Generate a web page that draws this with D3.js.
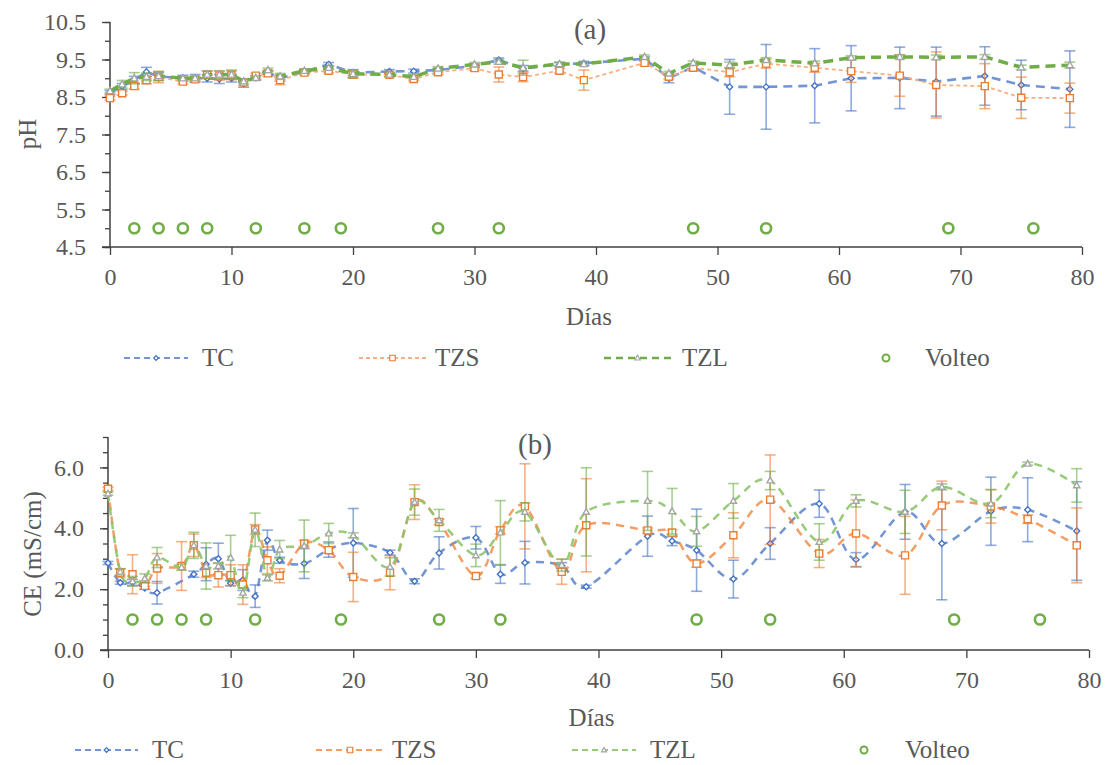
<!DOCTYPE html>
<html>
<head>
<meta charset="utf-8">
<script src="https://cdn.jsdelivr.net/npm/d3@7"></script>
<style>
  html, body { margin: 0; padding: 0; background: #ffffff; }
  svg { display: block; }
</style>
</head>
<body>
<script>
// Sampling days (same for both panels)
const days = [0,1,2,3,4,6,7,8,9,10,11,12,13,14,16,18,20,23,25,27,30,32,34,37,39,44,46,48,51,54,58,61,65,68,72,75,79];

// (a) pH per treatment
const phTC  = [8.62,8.78,8.95,9.17,9.05,9.00,9.00,9.00,8.98,9.00,8.86,9.01,9.15,9.00,9.18,9.37,9.15,9.18,9.19,9.22,9.33,9.49,9.26,9.37,9.40,9.52,9.00,9.30,8.77,8.77,8.80,9.00,9.01,8.91,9.06,8.82,8.71];
const phTZS = [8.47,8.60,8.79,8.95,9.03,8.91,8.97,9.09,9.07,9.08,8.89,9.07,9.13,8.95,9.15,9.20,9.10,9.09,8.98,9.16,9.27,9.10,9.03,9.20,8.95,9.41,9.04,9.28,9.16,9.39,9.28,9.19,9.07,8.82,8.79,8.48,8.47];
const phTZL = [8.66,8.84,9.00,9.04,9.06,9.00,9.00,9.10,9.10,9.10,8.92,9.01,9.22,9.05,9.20,9.28,9.12,9.10,9.04,9.26,9.37,9.44,9.28,9.38,9.38,9.57,9.13,9.41,9.35,9.49,9.40,9.55,9.57,9.56,9.57,9.29,9.35];
// (a) standard deviations
const phTCsd  = [0.05,0.08,0.10,0.12,0.10,0.08,0.10,0.10,0.12,0.10,0.10,0.06,0.05,0.08,0.05,0.05,0.08,0.05,0.05,0.05,0.05,0.05,0.08,0.05,0.05,0.05,0.12,0.05,0.73,1.13,0.99,0.87,0.82,0.92,0.78,0.66,1.02];
const phTZSsd = [0.05,0.05,0.08,0.10,0.15,0.06,0.06,0.10,0.12,0.12,0.08,0.06,0.08,0.12,0.05,0.06,0.10,0.06,0.05,0.06,0.06,0.20,0.12,0.06,0.27,0.06,0.06,0.08,0.12,0.12,0.12,0.30,0.55,0.88,0.60,0.55,0.40];
const phTZLsd = [0.05,0.10,0.15,0.10,0.12,0.05,0.05,0.10,0.10,0.12,0.06,0.05,0.05,0.08,0.05,0.05,0.10,0.05,0.06,0.05,0.05,0.06,0.20,0.05,0.05,0.05,0.05,0.05,0.08,0.06,0.06,0.05,0.06,0.06,0.06,0.06,0.08];

// (b) electrical conductivity (mS/cm) per treatment
const ceTC  = [2.86,2.21,2.22,2.04,1.88,null,2.49,2.82,3.00,2.19,2.30,1.77,3.61,2.95,2.84,3.30,3.52,3.20,2.26,3.19,3.69,2.49,2.87,2.77,2.08,3.74,3.58,3.28,2.33,3.50,4.81,2.97,4.54,3.50,4.56,4.61,3.91];
const ceTZS = [5.30,2.53,2.49,2.11,2.68,2.76,3.44,2.54,2.46,2.46,2.15,3.96,2.95,2.44,3.50,3.28,2.40,2.54,4.86,4.21,2.43,3.93,4.72,2.57,4.10,3.93,3.86,2.84,3.77,4.94,3.17,3.83,3.11,4.75,4.72,4.30,3.44];
const ceTZL = [5.14,2.57,2.26,2.35,3.04,2.72,3.44,2.76,2.76,3.03,1.88,3.95,2.37,3.30,3.42,3.83,3.77,2.73,4.86,4.26,3.11,3.86,4.54,2.79,4.54,4.90,4.56,3.90,4.90,5.57,3.55,4.90,4.54,5.36,4.81,6.12,5.41];
// (b) standard deviations
const ceTCsd  = [0.05,0.05,0.10,0.05,0.37,0,0.10,0.54,0.51,0.08,0.34,0.37,0.33,0.10,0.49,0.25,1.13,0.08,0.08,0.53,0.37,0.30,0.70,0.10,0.05,0.66,0.15,1.35,0.62,0.52,0.45,0.23,0.90,1.85,1.12,1.05,1.62];
const ceTZSsd = [0.05,0.14,0.64,0.10,0.49,0.80,0.37,0.16,0.39,0.34,0.65,0.16,0.44,0.23,0.10,0.08,0.81,0.56,0.57,0.09,0.08,0.12,1.40,0.41,1.53,0.08,0.08,0.12,0.74,1.47,0.46,1.10,1.28,0.80,0.55,0.14,1.23];
const ceTZLsd = [0.05,0.10,0.16,0.15,0.33,0.10,0.43,0.76,0.10,0.74,0.16,0.55,0.10,0.30,0.85,0.33,0.08,0.30,0.43,0.36,0.37,1.05,0.30,0.20,1.45,0.97,0.75,0.49,0.57,0.30,0.60,0.20,0.71,0.10,0.46,0.05,0.55];

// Turning events
const volteoA = [2,4,6,8,12,16,19,27,32,48,54,69,76];
const volteoB = [2,4,6,8,12,19,27,32,48,54,69,76];

// Axis ticks
const xTicks = [0,10,20,30,40,50,60,70,80];
const phTicks = [4.5,5.5,6.5,7.5,8.5,9.5,10.5];
const ceTicks = [0,2,4,6];
const seriesNames = ["TC","TZS","TZL","Volteo"];

const BLUE = "#4472C4", ORANGE = "#ED7D31", GREEN = "#70AD47", GRAY = "#A5A5A5";
const SERIF = "'Liberation Serif', 'Times New Roman', Tinos, 'Nimbus Roman', 'DejaVu Serif', serif";
const INK = "#595959";

const svg = d3.select("body").append("svg").attr("width", 1108).attr("height", 765)
  .attr("font-family", SERIF);

// marker shapes
const diamondType = { draw(ctx, size) { const r = Math.sqrt(size) / 2; ctx.moveTo(0,-r); ctx.lineTo(r,0); ctx.lineTo(0,r); ctx.lineTo(-r,0); ctx.closePath(); } };
const squareType = { draw(ctx, size) { const r = Math.sqrt(size) / 2; ctx.rect(-r,-r,2*r,2*r); } };
const triType = { draw(ctx, size) { const r = Math.sqrt(size) / 2; ctx.moveTo(0,-r*1.05); ctx.lineTo(r,r*0.75); ctx.lineTo(-r,r*0.75); ctx.closePath(); } };

function label(sel, size) {
  return sel.attr("font-family", SERIF).attr("font-size", size).attr("fill", INK);
}

function drawPanel(cfg) {
  const g = svg.append("g");
  const x = d3.scaleLinear().domain([0, 80]).range(cfg.xRange);
  const y = d3.scaleLinear().domain(cfg.yDomain).range(cfg.yRange);

  // y axis: minor ticks then major ticks with labels
  const minor = d3.range(cfg.yDomain[0], cfg.yDomain[1] + 1e-9, 0.5);
  g.append("g").attr("transform", `translate(${cfg.xRange[0]},0)`)
    .call(d3.axisLeft(y).tickValues(minor).tickSize(5).tickFormat(""))
    .call(a => a.select(".domain").remove())
    .call(a => a.selectAll("line").attr("stroke", "#404040").attr("stroke-width", 1.3));
  const yAx = g.append("g").attr("transform", `translate(${cfg.xRange[0]},0)`)
    .call(d3.axisLeft(y).tickValues(cfg.yTicks).tickSize(8).tickPadding(16).tickFormat(d3.format(".1f")));
  yAx.attr("font-family", SERIF);
  yAx.select(".domain").attr("stroke", "#404040").attr("stroke-width", 1.5).attr("d", `M0,${cfg.yRange[0]}V${cfg.yRange[1]}`);
  yAx.selectAll("line").attr("stroke", "#404040").attr("stroke-width", 1.3);
  label(yAx.selectAll("text"), 24);

  // x axis
  const xAx = g.append("g").attr("transform", `translate(0,${cfg.yRange[0]})`)
    .call(d3.axisBottom(x).tickValues(xTicks).tickSize(8).tickPadding(13).tickFormat(d3.format("d")));
  xAx.attr("font-family", SERIF);
  xAx.select(".domain").attr("stroke", "#404040").attr("stroke-width", 1.5).attr("d", `M${cfg.xRange[0] - 8},0H${cfg.xRange[1]}`);
  xAx.selectAll("line").attr("stroke", "#404040").attr("stroke-width", 1.3);
  label(xAx.selectAll("text"), 24);

  // titles
  label(g.append("text"), 29).attr("x", cfg.titlePos[0]).attr("y", cfg.titlePos[1]).attr("text-anchor", "middle")
    .text(cfg.title);
  label(g.append("text"), 25).attr("x", (cfg.xRange[0] + cfg.xRange[1]) / 2 - 7).attr("y", cfg.xLabelY).attr("text-anchor", "middle")
    .text("Días");
  label(g.append("text"), 25).attr("transform", `translate(${cfg.yLabelPos[0]},${cfg.yLabelPos[1]}) rotate(-90)`)
    .attr("text-anchor", "middle").text(cfg.yLabel);

  // series: error bars, line, markers
  cfg.series.forEach(s => {
    const pts = days.map((d, i) => ({ d, v: s.values[i], sd: s.sd[i] })).filter(p => p.v != null);
    const eb = g.append("g").attr("stroke", s.color).attr("stroke-opacity", 0.6).attr("stroke-width", 1.6);
    pts.filter(p => p.sd > 0).forEach(p => {
      const cx = x(p.d), y1 = y(p.v - p.sd), y2 = y(p.v + p.sd);
      eb.append("line").attr("x1", cx).attr("x2", cx).attr("y1", y1).attr("y2", y2);
      eb.append("line").attr("x1", cx - 5.5).attr("x2", cx + 5.5).attr("y1", y1).attr("y2", y1);
      eb.append("line").attr("x1", cx - 5.5).attr("x2", cx + 5.5).attr("y1", y2).attr("y2", y2);
    });
    const line = d3.line().x(p => x(p.d)).y(p => y(p.v)).curve(cfg.curve);
    g.append("path").datum(pts).attr("d", line).attr("fill", "none")
      .attr("stroke", s.lineColor).attr("stroke-width", s.width).attr("stroke-dasharray", s.dash)
      .attr("stroke-opacity", s.opacity);
    g.append("g").selectAll("path").data(pts).join("path")
      .attr("transform", p => `translate(${x(p.d)},${y(p.v)})`)
      .attr("d", d3.symbol().type(s.shape).size(s.size))
      .attr("fill", "#ffffff").attr("stroke", s.markerColor).attr("stroke-width", 1.4);
  });

  // turning events
  g.append("g").selectAll("circle").data(cfg.volteo).join("circle")
    .attr("cx", d => x(d)).attr("cy", y(cfg.volteoLevel)).attr("r", 5)
    .attr("fill", "none").attr("stroke", GREEN).attr("stroke-width", 2.6);

  // legend
  const lg = g.append("g");
  cfg.legend.forEach((it, i) => {
    const s = cfg.series[i];
    const ly = cfg.legendY;
    if (s) {
      lg.append("line").attr("x1", it.x0).attr("x2", it.x1).attr("y1", ly).attr("y2", ly)
        .attr("stroke", s.lineColor).attr("stroke-width", s.legendWidth).attr("stroke-dasharray", s.legendDash)
        .attr("stroke-opacity", s.opacity);
      lg.append("path").attr("transform", `translate(${(it.x0 + it.x1) / 2},${ly})`)
        .attr("d", d3.symbol().type(s.shape).size(s.size * 0.6))
        .attr("fill", "#ffffff").attr("stroke", s.markerColor).attr("stroke-width", 1.2);
    } else {
      lg.append("circle").attr("cx", it.x0).attr("cy", ly).attr("r", 3.5)
        .attr("fill", "none").attr("stroke", GREEN).attr("stroke-width", 2);
    }
    label(lg.append("text"), 25).attr("x", it.tx).attr("y", ly + 8).text(seriesNames[i]);
  });
}

drawPanel({
  xRange: [110, 1082], yDomain: [4.5, 10.5], yRange: [247, 22], yTicks: phTicks,
  title: "(a)", titlePos: [590, 39], xLabelY: 325, yLabel: "pH", yLabelPos: [36, 134],
  curve: d3.curveLinear,
  series: [
    { values: phTC, sd: phTCsd, color: BLUE, lineColor: BLUE, opacity: 0.75, width: 2.6, dash: "9,6",
      legendWidth: 2.2, legendDash: "6,4", markerColor: BLUE, shape: diamondType, size: 36 },
    { values: phTZS, sd: phTZSsd, color: ORANGE, lineColor: "#F4B183", opacity: 1, width: 1.8, dash: "4,3",
      legendWidth: 1.8, legendDash: "4,3", markerColor: ORANGE, shape: squareType, size: 50 },
    { values: phTZL, sd: phTZLsd, color: GREEN, lineColor: GREEN, opacity: 1, width: 3.5, dash: "10,6",
      legendWidth: 2.6, legendDash: "7,5", markerColor: GRAY, shape: triType, size: 48 }
  ],
  volteo: volteoA, volteoLevel: 5.0,
  legendY: 358,
  legend: [ { x0: 124, x1: 188, tx: 202 }, { x0: 359, x1: 426, tx: 435 }, { x0: 604, x1: 671, tx: 682 }, { x0: 886, tx: 925 } ]
});

drawPanel({
  xRange: [108, 1089], yDomain: [0, 7], yRange: [650, 437], yTicks: ceTicks,
  title: "(b)", titlePos: [535, 454], xLabelY: 726, yLabel: "CE (mS/cm)", yLabelPos: [41, 554],
  curve: d3.curveCatmullRom.alpha(0),
  series: [
    { values: ceTC, sd: ceTCsd, color: BLUE, lineColor: BLUE, opacity: 0.75, width: 2.5, dash: "8,6",
      legendWidth: 2.2, legendDash: "6,4", markerColor: BLUE, shape: diamondType, size: 36 },
    { values: ceTZS, sd: ceTZSsd, color: ORANGE, lineColor: ORANGE, opacity: 0.75, width: 2.5, dash: "8,6",
      legendWidth: 2.2, legendDash: "6,4", markerColor: ORANGE, shape: squareType, size: 50 },
    { values: ceTZL, sd: ceTZLsd, color: GREEN, lineColor: "#8CC46A", opacity: 0.9, width: 2.5, dash: "8,6",
      legendWidth: 2.2, legendDash: "6,4", markerColor: GRAY, shape: triType, size: 40 }
  ],
  volteo: volteoB, volteoLevel: 1.0,
  legendY: 750,
  legend: [ { x0: 75, x1: 138, tx: 152 }, { x0: 316, x1: 384, tx: 392 }, { x0: 572, x1: 636, tx: 650 }, { x0: 864, tx: 905 } ]
});
</script>
</body>
</html>
